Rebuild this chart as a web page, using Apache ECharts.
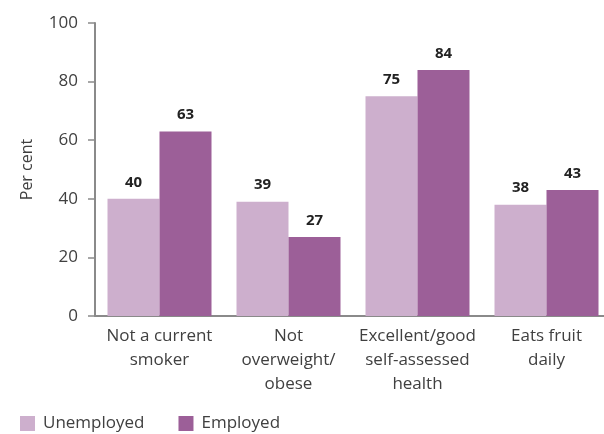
<!DOCTYPE html>
<html><head><meta charset="utf-8">
<script src="https://cdn.jsdelivr.net/npm/echarts@6/dist/echarts.min.js"></script>
<style>html,body{margin:0;padding:0;background:#fff}#c{width:604px;height:434px}</style>
</head><body><div id="c"></div>
<script>
const categories = ["Not a current\nsmoker", "Not\noverweight/\nobese", "Excellent/good\nself-assessed\nhealth", "Eats fruit\ndaily"];
const unemployed = [40, 39, 75, 38];
const employed = [63, 27, 84, 43];
const seriesNames = ["Unemployed", "Employed"];
const yTicks = [0, 20, 40, 60, 80, 100];

const font = "'Open Sans', 'Noto Sans', sans-serif";
const chart = echarts.init(document.getElementById('c'));
const labelStyle = {show: true, position: 'top', distance: 9, fontFamily: font, fontSize: 15, fontWeight: 'bold', color: '#222'};
chart.setOption({
  animation: false,
  textStyle: {fontFamily: font},
  grid: {left: 95, width: 516, top: 23, bottom: 118, containLabel: false, outerBoundsMode: 'none'},
  legend: {
    left: 15, top: 410, itemWidth: 15, itemHeight: 15, itemGap: 34,
    padding: [5, 5, 0, 5],
    icon: 'rect',
    textStyle: {fontFamily: font, fontSize: 17, color: '#404040', padding: [0, 0, 0, 3]},
    data: seriesNames
  },
  xAxis: {
    type: 'category', data: categories,
    axisLine: {lineStyle: {color: '#8a8a8a', width: 2}},
    axisTick: {show: false},
    axisLabel: {fontFamily: font, fontSize: 17, color: '#404040', lineHeight: 24, margin: 8, interval: 0}
  },
  yAxis: {
    type: 'value', min: yTicks[0], max: yTicks[yTicks.length - 1], interval: 20,
    name: 'Per cent', nameLocation: 'middle', nameGap: 60, nameRotate: 90,
    nameTextStyle: {fontFamily: font, fontSize: 16, color: '#404040'},
    axisLine: {show: true, lineStyle: {color: '#8a8a8a', width: 2}},
    axisTick: {show: true, inside: false, length: 7, lineStyle: {color: '#8a8a8a', width: 1.5}},
    splitLine: {show: false},
    axisLabel: {fontFamily: font, fontSize: 17, color: '#404040', margin: 17}
  },
  series: [
    {name: seriesNames[0], type: 'bar', data: unemployed, barWidth: 52, barGap: '0%',
     itemStyle: {color: '#CDAFCD'}, label: labelStyle},
    {name: seriesNames[1], type: 'bar', data: employed, barWidth: 52, barGap: '0%',
     itemStyle: {color: '#9C5F98'}, label: labelStyle}
  ]
});
</script></body></html>
